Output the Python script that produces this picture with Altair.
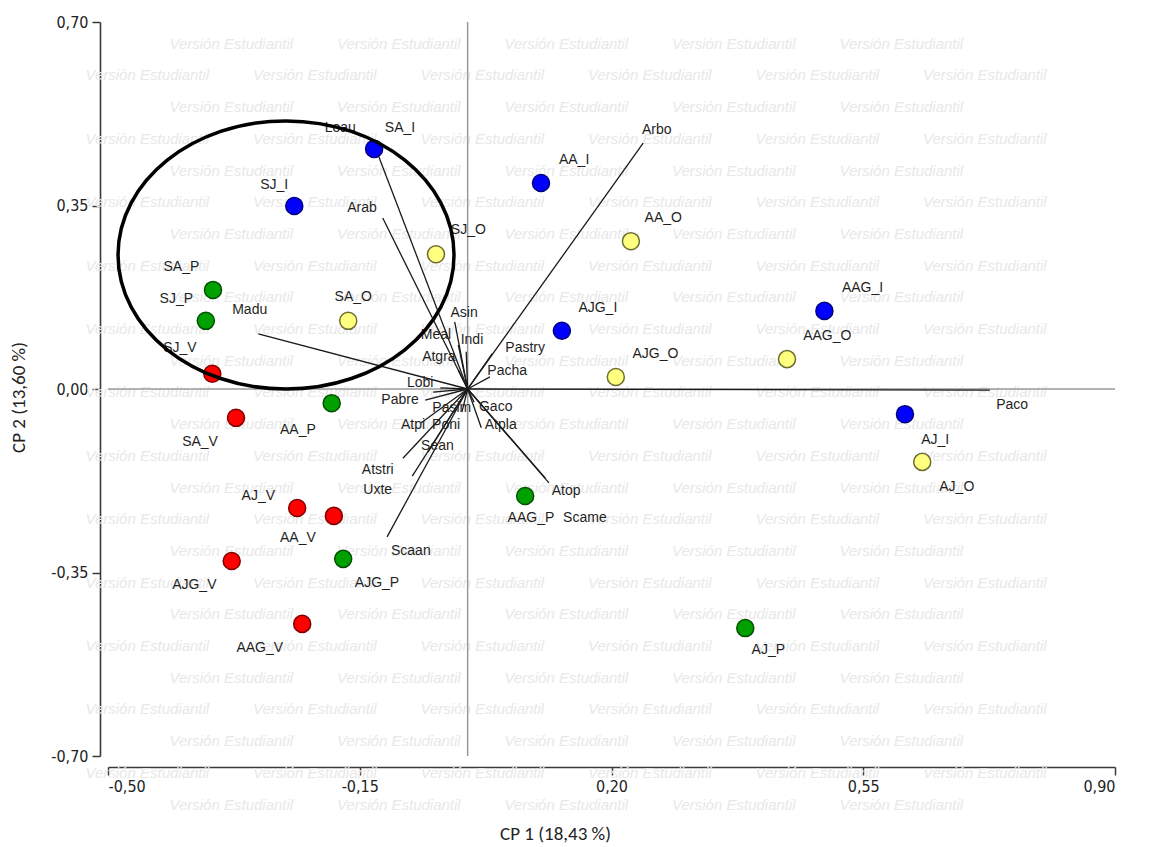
import altair as alt
import pandas as pd

# ---------------- observations (PCA scores) ----------------
obs_names = ["SA_I", "SJ_I", "AA_I", "AJG_I", "AAG_I", "AJ_I",
             "SJ_O", "AA_O", "SA_O", "AAG_O", "AJG_O", "AJ_O",
             "SA_P", "SJ_P", "AA_P", "AAG_P", "AJG_P", "AJ_P",
             "SJ_V", "SA_V", "AJ_V", "AA_V", "AJG_V", "AAG_V"]
obs_x = [-0.130, -0.241, 0.102, 0.131, 0.496, 0.608,
         -0.044, 0.227, -0.166, 0.444, 0.206, 0.632,
         -0.354, -0.364, -0.189, 0.080, -0.173, 0.386,
         -0.355, -0.322, -0.237, -0.186, -0.328, -0.230]
obs_y = [0.458, 0.349, 0.393, 0.111, 0.149, -0.048,
         0.257, 0.282, 0.130, 0.057, 0.023, -0.139,
         0.189, 0.130, -0.027, -0.204, -0.324, -0.456,
         0.029, -0.055, -0.227, -0.242, -0.328, -0.448]
obs_group = ["I"] * 6 + ["O"] * 6 + ["P"] * 6 + ["V"] * 6
obs_lab_x = [-0.094, -0.269, 0.148, 0.181, 0.549, 0.650,
             0.001, 0.272, -0.159, 0.500, 0.261, 0.680,
             -0.398, -0.405, -0.236, 0.088, -0.126, 0.418,
             -0.400, -0.372, -0.291, -0.236, -0.380, -0.289]
obs_lab_y = [0.498, 0.389, 0.437, 0.154, 0.193, -0.097,
             0.303, 0.326, 0.175, 0.101, 0.067, -0.187,
             0.233, 0.172, -0.078, -0.246, -0.370, -0.498,
             0.078, -0.101, -0.204, -0.284, -0.374, -0.494]

# ---------------- variables (loadings) ----------------
var_names = ["Loau", "Arab", "Arbo", "Madu", "Paco", "Atop", "Scame", "Scaan",
             "Uxte", "Atstri", "Sean", "Atpi", "Poni", "Atpla", "Pasim", "Gaco",
             "Pabre", "Lobi", "Pacha", "Atgra", "Indi", "Meal", "Asin", "Pastry"]
var_x = [-0.126, -0.118, 0.244, -0.291, 0.726, 0.108, 0.113, -0.112,
         -0.077, -0.090, -0.055, -0.065, -0.008, 0.019, -0.059, 0.009,
         -0.048, -0.038, 0.031, -0.013, -0.002, -0.013, -0.018, 0.034]
var_y = [0.452, 0.326, 0.469, 0.105, -0.002, -0.170, -0.179, -0.282,
         -0.166, -0.132, -0.120, -0.065, -0.044, -0.074, -0.021, -0.025,
         -0.006, 0.002, 0.023, 0.036, 0.071, 0.084, 0.128, 0.067]
var_lab_x = [-0.177, -0.147, 0.263, -0.303, 0.757, 0.137, 0.163, -0.079,
             -0.125, -0.125, -0.042, -0.076, -0.030, 0.046, -0.022, 0.039,
             -0.094, -0.066, 0.055, -0.040, 0.006, -0.044, -0.005, 0.080]
var_lab_y = [0.498, 0.345, 0.494, 0.151, -0.031, -0.195, -0.246, -0.309,
             -0.193, -0.154, -0.109, -0.069, -0.069, -0.069, -0.036, -0.034,
             -0.021, 0.011, 0.034, 0.061, 0.093, 0.103, 0.145, 0.078]

# ---------------- annotation ellipse ----------------
ellipse_x = [-0.2525]
ellipse_y = [0.2556]

x_ticks = [-0.50, -0.15, 0.20, 0.55, 0.90]
y_ticks = [-0.70, -0.35, 0.00, 0.35, 0.70]
ref_zero = [0.0]

W, H = 1007, 734

obs_df = pd.DataFrame({"name": obs_names, "x": obs_x, "y": obs_y, "g": obs_group,
                       "lx": obs_lab_x, "ly": obs_lab_y})
var_df = pd.DataFrame({"name": var_names, "x": var_x, "y": var_y,
                       "lx": var_lab_x, "ly": var_lab_y})
var_df["ox"] = 0.0
var_df["oy"] = 0.0
ell_df = pd.DataFrame({"x": ellipse_x, "y": ellipse_y})
ref_df = pd.DataFrame({"v": ref_zero})

# watermark (decorative background text), in pixels relative to the plot origin;
# only whole copies that fit inside the picture are kept
wm_rows = []
for r in range(1, 26):
    ay = 12 + 31.7 * r
    start = -82 if r % 2 == 0 else 2
    for c in range(8):
        ax = start + 167.5 * c
        if ax >= 10 and ax + 140 <= 1138 and ay <= 825:
            wm_rows.append({"wx": ax - 108, "wy": ay - 22, "t": "Versión Estudiantil"})
wm_df = pd.DataFrame(wm_rows)

xscale = alt.Scale(domain=[-0.5, 0.9], nice=False, zero=False)
yscale = alt.Scale(domain=[-0.7, 0.7], nice=False, zero=False)

lab_expr = "(datum.value < 0 ? '-' : '') + replace(format(abs(datum.value), '.2f'), '.', ',')"
tick_font = "Liberation Sans Narrow, DejaVu Sans Condensed, Arial Narrow, sans-serif"
title_font = "Carlito, Lato, Calibri, sans-serif"

x_axis = alt.Axis(values=x_ticks, labelExpr=lab_expr, offset=11, tickSize=8,
                  labelPadding=3, title="CP 1 (18,43 %)", titleX=447, titleY=66,
                  titleAlign="center", titleBaseline="middle", grid=False)
y_axis = alt.Axis(values=y_ticks, labelExpr=lab_expr, offset=8, tickSize=8,
                  labelPadding=4, title="CP 2 (13,60 %)", titleX=-82, titleY=375,
                  titleAngle=-90, titleAlign="center", titleBaseline="middle", grid=False)


def X(f):
    return alt.X(f, scale=xscale, axis=x_axis, title="CP 1 (18,43 %)")


def Y(f):
    return alt.Y(f, scale=yscale, axis=y_axis, title="CP 2 (13,60 %)")


watermark = alt.Chart(wm_df).mark_text(
    align="left", baseline="middle", fontStyle="italic", fontSize=15,
    font="Liberation Sans, Arial, sans-serif", color="#e8e8e8"
).encode(x=alt.X("wx:Q", scale=None, axis=None), y=alt.Y("wy:Q", scale=None, axis=None), text="t:N")

ref_v = alt.Chart(ref_df).mark_rule(color="#9a9a9a", strokeWidth=1.5).encode(x=X("v:Q"))
ref_h = alt.Chart(ref_df).mark_rule(color="#9a9a9a", strokeWidth=1.5).encode(y=Y("v:Q"))

vectors = alt.Chart(var_df).mark_rule(color="#1a1a1a", strokeWidth=1.3).encode(
    x=X("x:Q"), y=Y("y:Q"), x2="ox:Q", y2="oy:Q")

var_labels = alt.Chart(var_df).mark_text(
    fontSize=14, font="Liberation Sans, Arial, sans-serif", color="#1f1f1f",
    align="center", baseline="middle"
).encode(x=X("lx:Q"), y=Y("ly:Q"), text="name:N")

points = alt.Chart(obs_df).mark_point(filled=True, size=290, opacity=1, strokeWidth=1.5, shape="circle").encode(
    x=X("x:Q"), y=Y("y:Q"),
    fill=alt.Fill("g:N", scale=alt.Scale(domain=["I", "O", "P", "V"],
                                         range=["#0000ff", "#ffff80", "#00a000", "#ff0000"]), legend=None),
    stroke=alt.Stroke("g:N", scale=alt.Scale(domain=["I", "O", "P", "V"],
                                             range=["#000080", "#6e6e30", "#005000", "#800000"]), legend=None))

obs_labels = alt.Chart(obs_df).mark_text(
    fontSize=14, font="Liberation Sans, Arial, sans-serif", color="#1f1f1f",
    align="center", baseline="middle"
).encode(x=X("lx:Q"), y=Y("ly:Q"), text="name:N")

ellipse = alt.Chart(ell_df).mark_point(
    shape="M-1,0A1,0.798,0,1,0,1,0A1,0.798,0,1,0,-1,0Z", size=112896,
    filled=False, stroke="#000000", strokeWidth=3.5, opacity=1
).encode(x=X("x:Q"), y=Y("y:Q"))

chart = alt.layer(watermark, ref_v, ref_h, vectors, var_labels, points, obs_labels, ellipse).properties(
    width=W, height=H,
    autosize=alt.AutoSizeParams(type="none"),
    padding={"left": 100, "top": 14, "right": 26, "bottom": 90}
).configure_view(stroke=None).configure_axis(
    domainColor="#3a3a3a", domainWidth=1.6, tickColor="#3a3a3a", tickWidth=1.5,
    labelFont=tick_font, labelFontSize=16, labelColor="#222222",
    titleFont=title_font, titleFontSize=19, titleFontWeight="normal", titleColor="#222222"
)

chart.save("out.html", embed_options={"renderer": "svg", "actions": False})
